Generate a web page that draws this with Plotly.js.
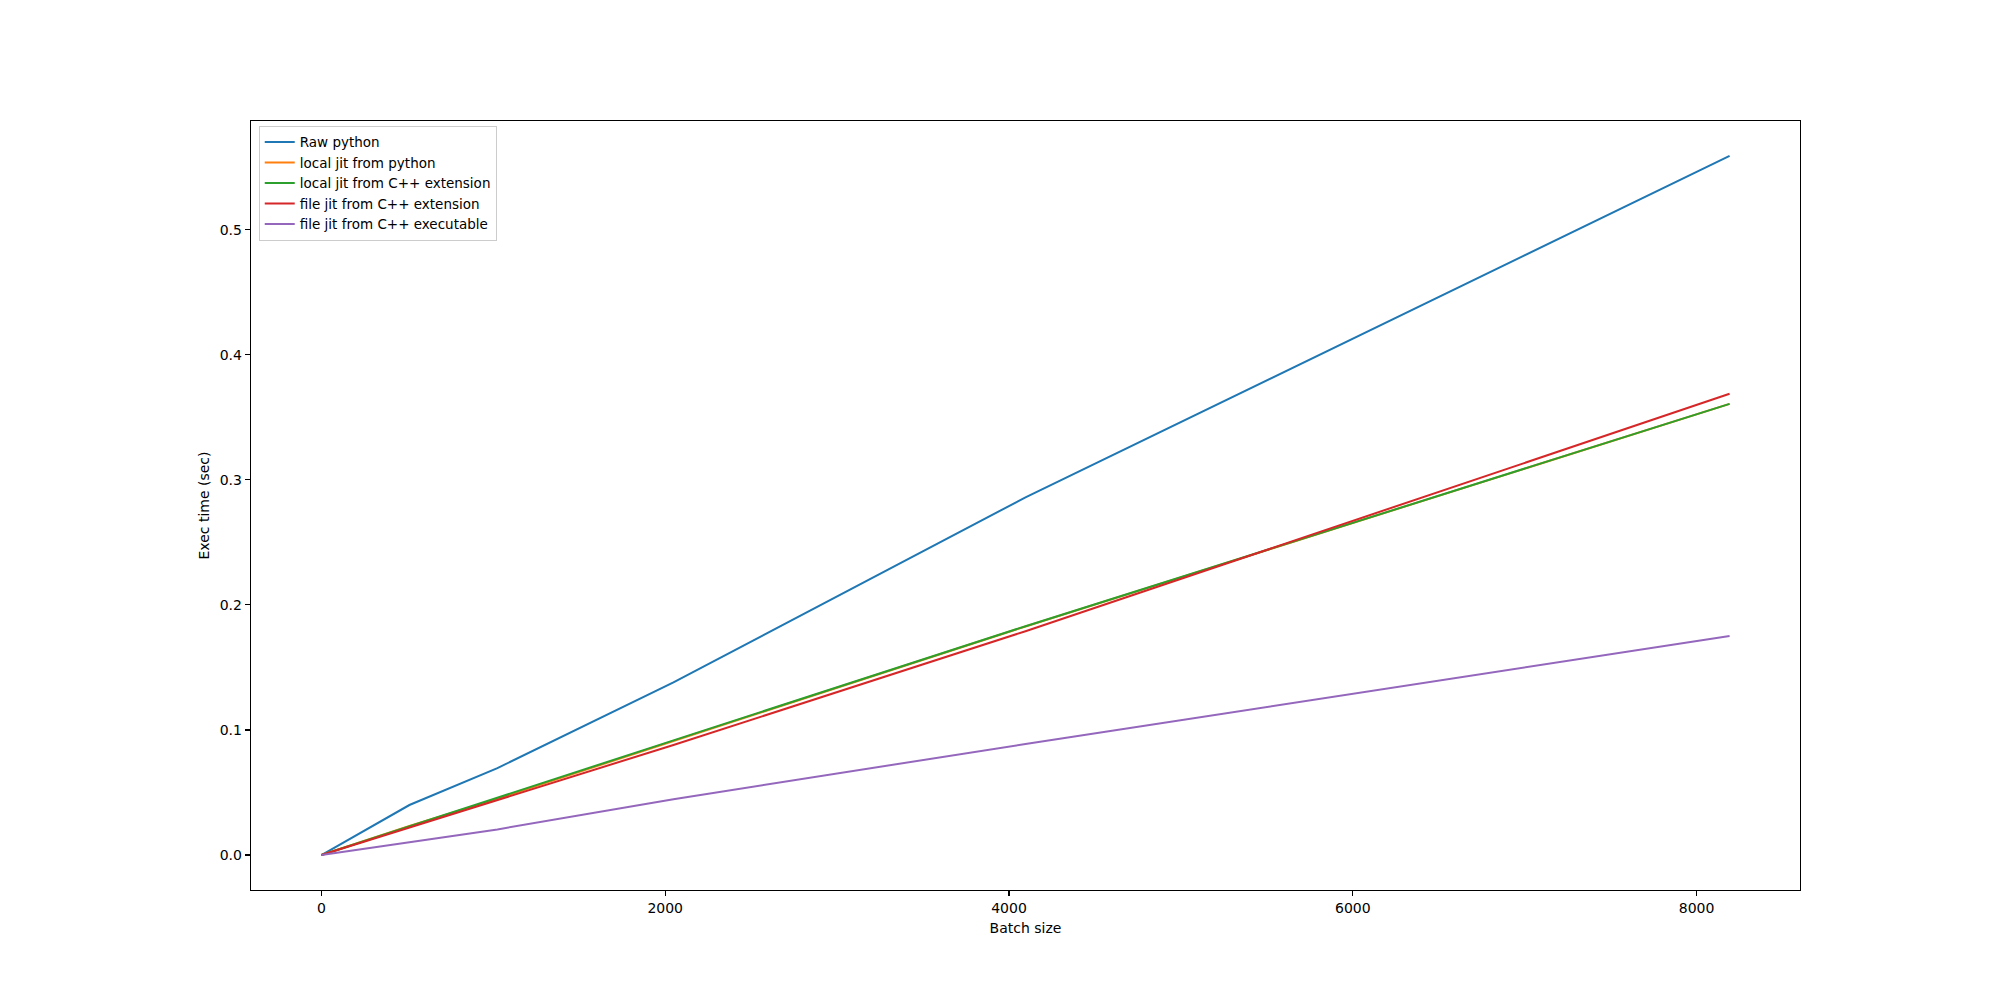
<!DOCTYPE html>
<html>
<head>
<meta charset="utf-8">
<script src="https://cdn.plot.ly/plotly-3.0.1.min.js"></script>
<style>html,body{margin:0;padding:0;background:#fff;}#chart{width:2000px;height:1000px;}</style>
</head>
<body>
<div id="chart"></div>
<script>
const batchSizes = [0, 512, 1024, 2048, 4096, 8192];
const seriesNames = ["Raw python", "local jit from python", "local jit from C++ extension", "file jit from C++ extension", "file jit from C++ executable"];
const rawPython = [0, 0.040, 0.0695, 0.138, 0.286, 0.559];
const localJitPython = [0, 0.0232, 0.0450, 0.0912, 0.1828, 0.3608];
const localJitCppExt = [0, 0.0230, 0.0455, 0.0917, 0.183, 0.3608];
const fileJitCppExt = [0, 0.0220, 0.0438, 0.0880, 0.179, 0.3688];
const fileJitCppExe = [0, 0.0105, 0.0205, 0.0447, 0.0888, 0.1751];
const colors = ["#1f77b4", "#ff7f0e", "#2ca02c", "#d62728", "#9467bd"];
const allSeries = [rawPython, localJitPython, localJitCppExt, fileJitCppExt, fileJitCppExe];

const traces = allSeries.map((ys, i) => ({
  x: batchSizes, y: ys, name: seriesNames[i], type: "scatter", mode: "lines",
  line: {color: colors[i], width: 2}
}));

const font = {family: "DejaVu Sans, sans-serif", size: 14, color: "#000"};
const layout = {
  width: 2000, height: 1000,
  paper_bgcolor: "#fff", plot_bgcolor: "#fff",
  margin: {l: 251, r: 200, t: 121, b: 110},
  font: font,
  showlegend: true,
  legend: {x: 0.005, y: 0.994, xanchor: "left", yanchor: "top",
    bgcolor: "rgba(255,255,255,0.8)", bordercolor: "#cccccc", borderwidth: 1,
    font: {family: "DejaVu Sans, sans-serif", size: 13.5, color: "#000"},
    tracegroupgap: 0, itemwidth: 30},
  xaxis: {range: [-409.6, 8601.6], tickvals: [0, 2000, 4000, 6000, 8000], ticktext: ["0","2000","4000","6000","8000"],
    showgrid: false, zeroline: false, showline: true, mirror: true, linecolor: "#000", linewidth: 1.3,
    ticks: "outside", ticklen: 5, tickwidth: 1.1, tickcolor: "#000", tickfont: font,
    title: {text: "Batch size", font: font, standoff: 8}},
  yaxis: {range: [-0.02795, 0.58695], tickvals: [0, 0.1, 0.2, 0.3, 0.4, 0.5], ticktext: ["0.0","0.1","0.2","0.3","0.4","0.5"],
    showgrid: false, zeroline: false, showline: true, mirror: true, linecolor: "#000", linewidth: 1.3,
    ticks: "outside", ticklen: 5, tickwidth: 1.1, tickcolor: "#000", tickfont: font,
    title: {text: "Exec time (sec)", font: font, standoff: 6}}
};
Plotly.newPlot("chart", traces, layout, {displayModeBar: false, staticPlot: true});
</script>
</body>
</html>
